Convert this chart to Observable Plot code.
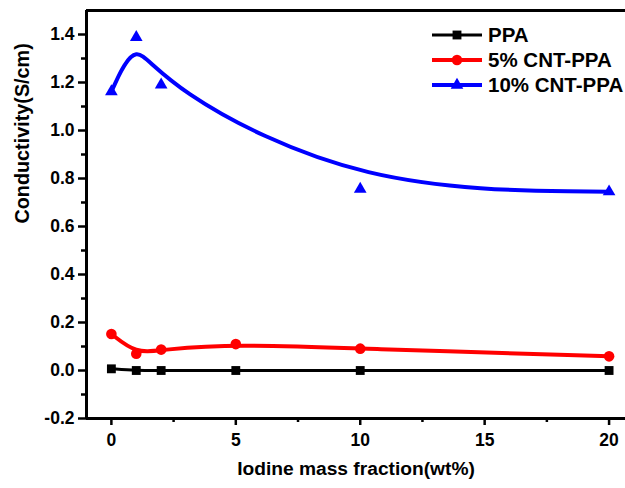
<!DOCTYPE html>
<html>
<head>
<meta charset="utf-8">
<script src="https://cdn.jsdelivr.net/npm/d3@7"></script>
<script src="https://cdn.jsdelivr.net/npm/@observablehq/plot@0.6"></script>
<style>
  body { margin: 0; background: #fff; }
  #wrap { position: relative; width: 625px; height: 488px; overflow: hidden; font-family: "Liberation Sans", Arial, sans-serif; }
  #legend { position: absolute; left: 430px; top: 23px; }
  .row { display: flex; align-items: center; height: 24.7px; font-weight: bold; font-size: 20.5px; color: #000; white-space: nowrap; }
  .row svg { margin-right: 4px; }
</style>
</head>
<body>
<div id="wrap"><div id="legend"></div></div>
<script>
// ---- data ----
const seriesNames = ["PPA", "5% CNT-PPA", "10% CNT-PPA"];
const seriesColors = ["#000000", "#ff0000", "#0000ff"];
const seriesSymbols = ["square", "circle", "triangle"];

const xPPA = [0, 1, 2, 5, 10, 20];
const yPPA = [0.007, 0.0, 0.0, 0.0, 0.0, 0.0];

const xCNT5 = [0, 1, 2, 5, 10, 20];
const yCNT5 = [0.152, 0.07, 0.087, 0.11, 0.091, 0.059];

const xCNT10 = [0, 1, 2, 10, 20];
const yCNT10 = [1.162, 1.388, 1.19, 0.756, 0.745];

const xMajor = [0, 5, 10, 15, 20];
const xMinor = [2.5, 7.5, 12.5, 17.5];
const yMajor = [-0.2, 0.0, 0.2, 0.4, 0.6, 0.8, 1.0, 1.2, 1.4];
const yMinor = [-0.1, 0.1, 0.3, 0.5, 0.7, 0.9, 1.1, 1.3];

const xTitle = "Iodine mass fraction(wt%)";
const yTitle = "Conductivity(S/cm)";

// ---- build table ----
const xs = [xPPA, xCNT5, xCNT10];
const ys = [yPPA, yCNT5, yCNT10];
const rows = [];
seriesNames.forEach((s, i) => xs[i].forEach((x, j) => rows.push({series: s, x, y: ys[i][j]})));

const lineWidths = [3, 4, 4];
const dotR = [5, 5.3, 4.7];

const marks = [];
seriesNames.forEach((s, i) => {
  const d = rows.filter(r => r.series === s);
  marks.push(Plot.line(d, {x: "x", y: "y", stroke: seriesColors[i], strokeWidth: lineWidths[i], curve: "basis"}));
});
seriesNames.forEach((s, i) => {
  const d = rows.filter(r => r.series === s);
  marks.push(Plot.dot(d, {x: "x", y: "y", fill: seriesColors[i], symbol: seriesSymbols[i], r: dotR[i], stroke: null}));
});

const noText = () => "";

const chart = Plot.plot({
  width: 625,
  height: 488,
  marginLeft: 86,
  marginRight: 0,
  marginTop: 10,
  marginBottom: 70,
  style: {fontFamily: "'Liberation Sans', Arial, sans-serif", fontWeight: "bold", background: "#fff", color: "#000"},
  x: {domain: [-1, 20.66]},
  y: {domain: [-0.2, 1.5]},
  marks: [
    ...marks,
    Plot.axisX(xMinor, {tickSize: 4, strokeWidth: 2.5, tickFormat: noText, label: null}),
    Plot.axisX(xMajor, {tickSize: 7, strokeWidth: 2.5, tickPadding: 8, fontSize: 17.5, fontWeight: "bold", tickFormat: d => String(d), label: null}),
    Plot.axisY(yMinor, {tickSize: 5, strokeWidth: 2.5, tickFormat: noText, label: null}),
    Plot.axisY(yMajor, {tickSize: 8, strokeWidth: 2.5, tickPadding: 4, fontSize: 17.5, fontWeight: "bold", tickFormat: d => d.toFixed(1), label: null}),
    Plot.ruleX([-1], {strokeWidth: 3}),
    Plot.ruleY([-0.2], {strokeWidth: 3}),
    Plot.ruleY([1.5], {strokeWidth: 3}),
    Plot.text([xTitle], {text: d => d, frameAnchor: "bottom", dy: 50, fontSize: 19.2, fontWeight: "bold", lineAnchor: "middle"}),
    Plot.text([yTitle], {text: d => d, frameAnchor: "left", dx: -64, dy: 9, rotate: -90, fontSize: 19.8, fontWeight: "bold", lineAnchor: "middle"})
  ]
});
document.getElementById("wrap").prepend(chart);

// ---- legend ----
const legend = document.getElementById("legend");
seriesNames.forEach((s, i) => {
  const row = document.createElement("div");
  row.className = "row";
  const sym = d3.symbol(d3["symbol" + seriesSymbols[i][0].toUpperCase() + seriesSymbols[i].slice(1)], Math.PI * dotR[i] * dotR[i])();
  row.innerHTML = `<svg width="54" height="16"><line x1="2" x2="52" y1="8" y2="8" stroke="${seriesColors[i]}" stroke-width="${lineWidths[i]}"/><path d="${sym}" transform="translate(27,8)" fill="${seriesColors[i]}"/></svg><span>${s}</span>`;
  legend.appendChild(row);
});
</script>
</body>
</html>
